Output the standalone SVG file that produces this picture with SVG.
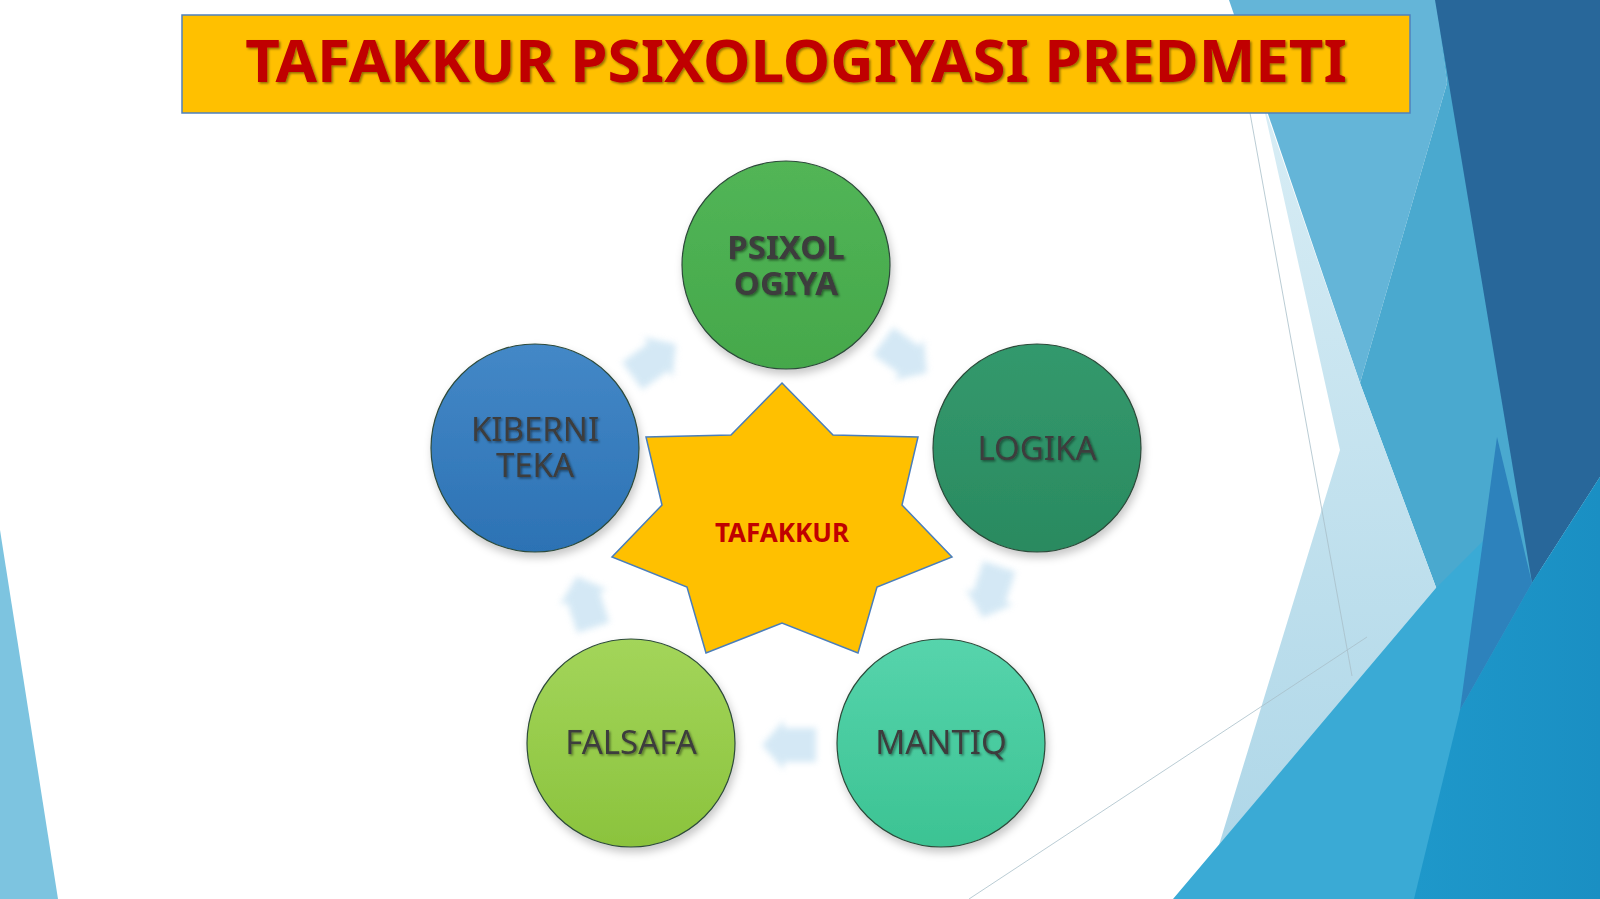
<svg xmlns="http://www.w3.org/2000/svg" width="1600" height="899" viewBox="0 0 1600 899">
<defs>
<style>
.lbl{font-family:"Noto Sans","Open Sans","DejaVu Sans",sans-serif;font-size:33px;fill:#3c3c3c;text-anchor:middle;filter:url(#tsh)}
.b{font-weight:bold}
.node{stroke:#2d4a3a;stroke-width:1.2;filter:url(#csh)}
.arr{fill:#c6e1f2;opacity:0.75;filter:url(#soft)}
.faint{stroke:#a9bfc9;stroke-width:1;fill:none;opacity:0.8}
</style>
<filter id="tsh" x="-20%" y="-40%" width="140%" height="180%">
<feDropShadow dx="1.5" dy="1.5" stdDeviation="1.3" flood-color="#000" flood-opacity="0.45"/>
</filter>
<filter id="csh" x="-20%" y="-20%" width="140%" height="150%">
<feDropShadow dx="2" dy="5" stdDeviation="4" flood-color="#000" flood-opacity="0.22"/>
</filter>
<filter id="soft" x="-40%" y="-40%" width="180%" height="180%">
<feGaussianBlur stdDeviation="3"/>
</filter>
<linearGradient id="gP" x1="0" y1="0" x2="0" y2="1"><stop offset="0" stop-color="#52b556"/><stop offset="1" stop-color="#45a84b"/></linearGradient>
<linearGradient id="gL" x1="0" y1="0" x2="0" y2="1"><stop offset="0" stop-color="#33996d"/><stop offset="1" stop-color="#2a8a60"/></linearGradient>
<linearGradient id="gM" x1="0" y1="0" x2="0" y2="1"><stop offset="0" stop-color="#56d4ac"/><stop offset="1" stop-color="#3cc393"/></linearGradient>
<linearGradient id="gF" x1="0" y1="0" x2="0" y2="1"><stop offset="0" stop-color="#a3d55a"/><stop offset="1" stop-color="#8bc33d"/></linearGradient>
<linearGradient id="gK" x1="0" y1="0" x2="0" y2="1"><stop offset="0" stop-color="#4488c7"/><stop offset="1" stop-color="#2c72b4"/></linearGradient>
<linearGradient id="gPale" x1="0" y1="0" x2="0" y2="1"><stop offset="0" stop-color="#d8edf5"/><stop offset="1" stop-color="#afd7e8"/></linearGradient>
<linearGradient id="gR" x1="0" y1="0" x2="1" y2="0"><stop offset="0" stop-color="#1e98ca"/><stop offset="1" stop-color="#1a8fc3"/></linearGradient>
<path id="arrowShape" d="M-27,-17 L5,-17 L5,-25 L27,0 L5,25 L5,17 L-27,17 Z"/>
</defs>

<!-- background -->
<rect x="0" y="0" width="1600" height="899" fill="#ffffff"/>
<g id="background">
<polygon points="0,530 58,899 0,899" fill="#7dc4e0"/>
<polygon points="1229,0 1437,0 1447,83 1360,383" fill="#64b5d8"/>
<polygon points="1447,83 1436,0 1540,0 1540,600 1437,590 1360,383" fill="#4aa9cf"/>
<polygon points="1435,0 1600,0 1600,477 1532,583" fill="#28679a"/>
<polygon points="1262,100 1340,450 1219,845 1437,590 1360,383" fill="url(#gPale)"/>
<polygon points="1173,899 1436,588 1484,540 1532,583 1600,477 1600,899" fill="#3aaad5"/>
<polygon points="1460,710 1532,583 1600,477 1600,899 1414,899" fill="url(#gR)"/>
<polygon points="1497,437 1532,583 1460,710" fill="#2d82bc"/>
<line class="faint" x1="1250" y1="113" x2="1352" y2="676"/>
<line class="faint" x1="969" y1="899" x2="1367" y2="637"/>
</g>

<!-- title -->
<g id="title">
<rect x="182" y="15" width="1228" height="98" fill="#ffc000" stroke="#4f81bd" stroke-width="1.5"/>
<text x="796" y="82" font-family="'Noto Sans','Open Sans','DejaVu Sans',sans-serif" font-size="60" font-weight="bold" fill="#c00000" text-anchor="middle" filter="url(#tsh)">TAFAKKUR PSIXOLOGIYASI PREDMETI</text>
</g>

<!-- connectors -->
<g id="connectors">
<use href="#arrowShape" class="arr" transform="translate(654,360) rotate(-36)"/>
<use href="#arrowShape" class="arr" transform="translate(905,357) rotate(36)"/>
<use href="#arrowShape" class="arr" transform="translate(991,592) rotate(108)"/>
<use href="#arrowShape" class="arr" transform="translate(789,745) rotate(180)"/>
<use href="#arrowShape" class="arr" transform="translate(585,602) rotate(252)"/>
</g>

<!-- nodes -->
<g id="node-psixologiya">
<circle class="node" cx="786" cy="265" r="104" fill="url(#gP)"/>
<text class="lbl b" x="786" y="259">PSIXOL<tspan x="786" dy="36">OGIYA</tspan></text>
</g>
<g id="node-logika">
<circle class="node" cx="1037" cy="448" r="104" fill="url(#gL)"/>
<text class="lbl" x="1037" y="460">LOGIKA</text>
</g>
<g id="node-mantiq">
<circle class="node" cx="941" cy="743" r="104" fill="url(#gM)"/>
<text class="lbl" x="941" y="754">MANTIQ</text>
</g>
<g id="node-falsafa">
<circle class="node" cx="631" cy="743" r="104" fill="url(#gF)"/>
<text class="lbl" x="631" y="754">FALSAFA</text>
</g>
<g id="node-kibernitika">
<circle class="node" cx="535" cy="448" r="104" fill="url(#gK)"/>
<text class="lbl" x="535" y="441">KIBERNI<tspan x="535" dy="36">TEKA</tspan></text>
</g>
<g id="node-tafakkur">
<polygon points="782,383 833,435 918,437 902,505 952,557 877,587 858,653 782,623 706,653 687,587 612,557 662,505 646,437 731,435" fill="#ffc000" stroke="#4a7ebb" stroke-width="1.5"/>
<text x="782" y="542" font-family="'Noto Sans','Open Sans','DejaVu Sans',sans-serif" font-size="26" font-weight="bold" fill="#c00000" text-anchor="middle">TAFAKKUR</text>
</g>
</svg>
